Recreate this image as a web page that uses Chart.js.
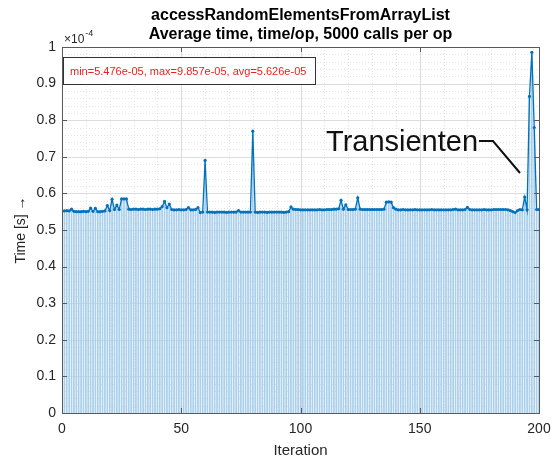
<!DOCTYPE html>
<html>
<head>
<meta charset="utf-8">
<script src="https://cdn.jsdelivr.net/npm/chart.js@4/dist/chart.umd.min.js"></script>
<style>
  html, body { margin: 0; padding: 0; background: #fff; }
  canvas { display: block; }
</style>
</head>
<body>
<canvas id="chart" width="555" height="463"></canvas>
<script>
// average time per op for each iteration, in units of 1e-4 s
const timePerOp = [
  0.552, 0.553, 0.552, 0.557, 0.551, 0.550, 0.550, 0.550, 0.551, 0.550,
  0.551, 0.560, 0.551, 0.559, 0.550, 0.550, 0.551, 0.552, 0.567, 0.553,
  0.584, 0.556, 0.568, 0.556, 0.585, 0.585, 0.585, 0.557, 0.556, 0.557,
  0.557, 0.556, 0.557, 0.557, 0.556, 0.557, 0.557, 0.556, 0.557, 0.557,
  0.558, 0.564, 0.578, 0.561, 0.571, 0.556, 0.555, 0.555, 0.556, 0.555,
  0.555, 0.556, 0.561, 0.555, 0.555, 0.556, 0.561, 0.5476, 0.549, 0.690,
  0.549, 0.549, 0.549, 0.548, 0.549, 0.549, 0.549, 0.549, 0.548, 0.549,
  0.549, 0.549, 0.549, 0.553, 0.549, 0.549, 0.549, 0.549, 0.549, 0.770,
  0.549, 0.548, 0.549, 0.549, 0.549, 0.548, 0.549, 0.549, 0.549, 0.549,
  0.549, 0.549, 0.548, 0.549, 0.550, 0.563, 0.557, 0.556, 0.556, 0.555,
  0.555, 0.555, 0.555, 0.555, 0.555, 0.555, 0.555, 0.556, 0.555, 0.555,
  0.556, 0.556, 0.556, 0.557, 0.557, 0.558, 0.581, 0.557, 0.569, 0.556,
  0.556, 0.556, 0.557, 0.588, 0.557, 0.556, 0.556, 0.556, 0.556, 0.556,
  0.556, 0.556, 0.556, 0.556, 0.557, 0.576, 0.577, 0.576, 0.561, 0.557,
  0.555, 0.555, 0.556, 0.555, 0.555, 0.555, 0.555, 0.556, 0.555, 0.555,
  0.555, 0.555, 0.555, 0.555, 0.556, 0.555, 0.555, 0.555, 0.555, 0.555,
  0.555, 0.555, 0.555, 0.556, 0.557, 0.555, 0.555, 0.555, 0.556, 0.562,
  0.556, 0.555, 0.555, 0.555, 0.555, 0.555, 0.556, 0.555, 0.555, 0.555,
  0.556, 0.556, 0.556, 0.556, 0.556, 0.556, 0.555, 0.553, 0.550, 0.5476,
  0.553, 0.556, 0.555, 0.590, 0.555, 0.865, 0.9857, 0.780, 0.556, 0.556
];
const iterations = timePerOp.map((_, i) => i + 1);

const xTicks = [0, 50, 100, 150, 200];
const yTicks = [0, 0.1, 0.2, 0.3, 0.4, 0.5, 0.6, 0.7, 0.8, 0.9, 1];

const titleLines = ["accessRandomElementsFromArrayList", "Average time, time/op, 5000 calls per op"];
const FONT = '"Liberation Sans", Arial, Helvetica, sans-serif';
const AXIS_COLOR = "#262626";
const LINE_BLUE = "#0072bd";
const BAR_BLUE = "#aacfeb";

const points = iterations.map((x, i) => ({ x: x, y: timePerOp[i] }));

// matlab style exponent: 5.476e-05
function fmtExp(v) {
  return v.toExponential(3).replace(/e([+-])(\d)$/, "e$10$2");
}

const minVal = Math.min(...timePerOp) * 1e-4;
const maxVal = Math.max(...timePerOp) * 1e-4;
const avgVal = timePerOp.reduce((s, v) => s + v, 0) / timePerOp.length * 1e-4;
const statsText = "min=" + fmtExp(minVal) + ", max=" + fmtExp(maxVal) + ", avg=" + fmtExp(avgVal);

// grid lines (major solid, minor dotted) behind the bars
const gridPlugin = {
  id: "matlabGrid",
  beforeDatasetsDraw(chart) {
    const { ctx, chartArea: a, scales } = chart;
    ctx.save();
    ctx.lineWidth = 1;
    // minor
    ctx.strokeStyle = "#e4e4e4";
    ctx.setLineDash([1, 2]);
    for (let v = 10; v < 200; v += 10) {
      if (v % 50 === 0) continue;
      const px = Math.round(scales.x.getPixelForValue(v)) + 0.5;
      ctx.beginPath(); ctx.moveTo(px, a.top); ctx.lineTo(px, a.bottom); ctx.stroke();
    }
    for (let k = 1; k < 50; k++) {
      if (k % 5 === 0) continue;
      const py = Math.round(scales.y.getPixelForValue(k * 0.02)) + 0.5;
      ctx.beginPath(); ctx.moveTo(a.left, py); ctx.lineTo(a.right, py); ctx.stroke();
    }
    // major
    ctx.setLineDash([]);
    ctx.strokeStyle = "#dcdcdc";
    xTicks.slice(1, -1).forEach(v => {
      const px = Math.round(scales.x.getPixelForValue(v)) + 0.5;
      ctx.beginPath(); ctx.moveTo(px, a.top); ctx.lineTo(px, a.bottom); ctx.stroke();
    });
    yTicks.slice(1, -1).forEach(v => {
      const py = Math.round(scales.y.getPixelForValue(v)) + 0.5;
      ctx.beginPath(); ctx.moveTo(a.left, py); ctx.lineTo(a.right, py); ctx.stroke();
    });
    ctx.restore();
  },
  afterDatasetsDraw(chart) {
    const { ctx, chartArea: a, scales } = chart;
    ctx.save();
    ctx.strokeStyle = "#5a5a5a";
    ctx.lineWidth = 1;
    ctx.strokeRect(Math.round(a.left) + 0.5, Math.round(a.top) + 0.5, Math.round(a.right - a.left), Math.round(a.bottom - a.top));
    // inward tick marks on all four sides
    const tl = 5;
    xTicks.slice(1, -1).forEach(v => {
      const px = Math.round(scales.x.getPixelForValue(v)) + 0.5;
      ctx.beginPath();
      ctx.moveTo(px, a.bottom); ctx.lineTo(px, a.bottom - tl);
      ctx.moveTo(px, a.top); ctx.lineTo(px, a.top + tl);
      ctx.stroke();
    });
    yTicks.slice(1, -1).forEach(v => {
      const py = Math.round(scales.y.getPixelForValue(v)) + 0.5;
      ctx.beginPath();
      ctx.moveTo(a.left, py); ctx.lineTo(a.left + tl, py);
      ctx.moveTo(a.right, py); ctx.lineTo(a.right - tl, py);
      ctx.stroke();
    });
    ctx.restore();
  },
  afterDraw(chart) {
    const { ctx, chartArea: a } = chart;
    const cx = (a.left + a.right) / 2;
    ctx.save();
    ctx.textBaseline = "middle";

    // title
    ctx.fillStyle = "#000";
    ctx.textAlign = "center";
    ctx.font = "bold 16px " + FONT;
    ctx.fillText(titleLines[0], cx, 16);
    ctx.fillText(titleLines[1], cx, 35);

    // exponent above the y axis
    ctx.fillStyle = AXIS_COLOR;
    ctx.textAlign = "left";
    ctx.font = "12px " + FONT;
    ctx.fillText("\u00d710", a.left + 2, 40);
    const w = ctx.measureText("\u00d710").width;
    ctx.font = "9px " + FONT;
    ctx.fillText("-4", a.left + 2 + w + 1, 34);

    // axis labels
    ctx.font = "15px " + FONT;
    ctx.textAlign = "center";
    ctx.fillText("Iteration", cx, 451);
    ctx.font = "14px " + FONT;
    ctx.save();
    ctx.translate(21, 230);
    ctx.rotate(-Math.PI / 2);
    ctx.fillText("Time [s] \u2192", 0, 0);
    ctx.restore();

    // stats box
    ctx.fillStyle = "#fff";
    ctx.fillRect(63.5, 57.5, 252, 27);
    ctx.strokeStyle = "#333";
    ctx.lineWidth = 1;
    ctx.strokeRect(63.5, 57.5, 252, 27);
    ctx.fillStyle = "#e8231d";
    ctx.textAlign = "left";
    ctx.font = "11px " + FONT;
    ctx.fillText(statsText, 70, 71.5);

    // annotation for the spikes at the end
    ctx.fillStyle = "#111";
    ctx.font = "29px " + FONT;
    ctx.fillText("Transienten", 326, 143);
    ctx.strokeStyle = "#111";
    ctx.lineWidth = 2;
    ctx.beginPath();
    ctx.moveTo(479, 141);
    ctx.lineTo(493, 141);
    ctx.lineTo(520, 173);
    ctx.stroke();
    ctx.restore();
  }
};

new Chart(document.getElementById("chart"), {
  type: "bar",
  data: {
    datasets: [
      {
        type: "line",
        data: points,
        borderColor: LINE_BLUE,
        borderWidth: 1.3,
        pointRadius: 1.6,
        pointBackgroundColor: LINE_BLUE,
        pointBorderWidth: 0,
        tension: 0,
        clip: 0,
        order: 0
      },
      {
        type: "bar",
        data: points,
        backgroundColor: BAR_BLUE,
        borderWidth: 0,
        barPercentage: 0.72,
        categoryPercentage: 1,
        clip: 0,
        order: 1
      }
    ]
  },
  options: {
    responsive: false,
    animation: false,
    layout: { padding: { top: 47, right: 16, left: 0, bottom: 0 } },
    plugins: { legend: { display: false }, tooltip: { enabled: false } },
    scales: {
      x: {
        type: "linear",
        min: 0,
        max: 200,
        offset: false,
        grid: { display: false, drawTicks: false },
        border: { display: false },
        afterBuildTicks: s => { s.ticks = xTicks.map(v => ({ value: v })); },
        ticks: { padding: 8, color: AXIS_COLOR, font: { family: FONT, size: 14 }, maxRotation: 0 },
        afterFit: s => { s.height = 50; s.paddingLeft = 0; s.paddingRight = 0; }
      },
      y: {
        min: 0,
        max: 1,
        grid: { display: false, drawTicks: false },
        border: { display: false },
        afterBuildTicks: s => { s.ticks = yTicks.map(v => ({ value: v })); },
        ticks: {
          padding: 6,
          color: AXIS_COLOR,
          font: { family: FONT, size: 14 },
          callback: v => String(Number(v.toFixed(1)))
        },
        afterFit: s => { s.width = 62; s.paddingTop = 0; s.paddingBottom = 0; }
      }
    }
  },
  plugins: [gridPlugin]
});
</script>
</body>
</html>
